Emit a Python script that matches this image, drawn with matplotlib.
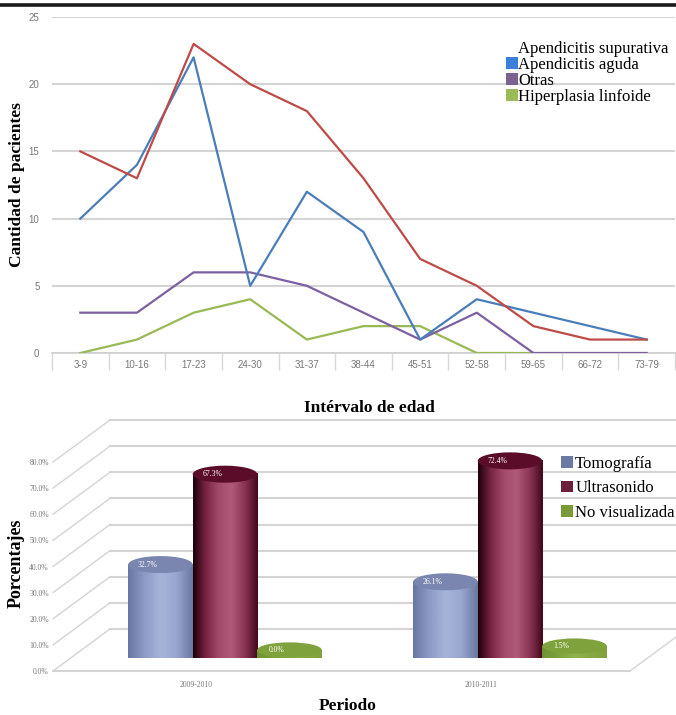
import numpy as np
import matplotlib
matplotlib.use("Agg")
import matplotlib.pyplot as plt
from matplotlib.patches import Patch, Ellipse, PathPatch
from matplotlib.path import Path
from matplotlib.colors import LinearSegmentedColormap
from matplotlib.lines import Line2D

# pacientes por grupo de edad y diagnostico
grupos_edad = ['3-9', '10-16', '17-23', '24-30', '31-37', '38-44',
               '45-51', '52-58', '59-65', '66-72', '73-79']
supurativa = [15, 13, 23, 20, 18, 13, 7, 5, 2, 1, 1]
aguda = [10, 14, 22, 5, 12, 9, 1, 4, 3, 2, 1]
otras = [3, 3, 6, 6, 5, 3, 1, 3, 0, 0, 0]
hiperplasia = [0, 1, 3, 4, 1, 2, 2, 0, 0, np.nan, np.nan]

# estudio de imagen por periodo (%)
periodos = ['2009-2010', '2010-2011']
tomografia = [32.7, 26.1]
ultrasonido = [67.3, 72.4]
no_visualizada = [0.0, 1.5]

W, H = 676, 715
fig = plt.figure(figsize=(W / 100, H / 100), dpi=100)
SERIF = 'Liberation Serif'


def caja(x0, y0, x1, y1):
    # rectangulo en pixeles (origen arriba a la izquierda) -> fraccion de figura
    return [x0 / W, 1 - y1 / H, (x1 - x0) / W, (y1 - y0) / H]


# filete negro de la pagina
fig.add_artist(Line2D([0, 1], [1 - 4.5 / H] * 2, color='#1a1a1a', lw=2.6))

# ---------------- grafico de lineas ----------------
ax = fig.add_axes(caja(52, 17, 675, 353))
x = np.arange(len(grupos_edad))

ax.plot(x, hiperplasia, color='#98b954', lw=1.6, zorder=3)
ax.plot(x, otras, color='#7d60a0', lw=1.6, zorder=4)
ax.plot(x, aguda, color='#4a7ebb', lw=1.6, zorder=5)
ax.plot(x, supurativa, color='#be4b48', lw=1.6, zorder=6)

ax.set_xlim(-0.5, len(grupos_edad) - 0.5)
ax.set_ylim(0, 25)
ax.set_yticks(range(0, 26, 5))
ax.grid(axis='y', color='#d4d4d4', lw=1.5)
ax.set_axisbelow(True)
for s in ['top', 'right', 'left']:
    ax.spines[s].set_visible(False)
ax.spines['bottom'].set_color('#d0d0d0')
ax.spines['bottom'].set_linewidth(1.2)
ax.set_xticks(x)
ax.set_xticklabels(grupos_edad, family='Liberation Sans')
ax.set_xticks(np.arange(-0.5, len(grupos_edad)), minor=True)
ax.tick_params(axis='x', which='major', length=0, pad=5, labelsize=7, labelcolor='#777777')
ax.tick_params(axis='x', which='minor', length=12, width=1, color='#d8d8d8')
ax.tick_params(axis='y', length=0, pad=9, labelsize=7, labelcolor='#777777')
for t in ax.get_yticklabels():
    t.set_family('Liberation Sans')

ax.set_ylabel('Cantidad de pacientes', family=SERIF, fontsize=12.5, fontweight='bold')
ax.yaxis.set_label_coords(-0.043, 0.5)
ax.set_xlabel('Intérvalo de edad', family=SERIF, fontsize=12.5, fontweight='bold')
ax.xaxis.set_label_coords(0.51, -0.14)

ley = [Patch(facecolor='none', edgecolor='none', label='Apendicitis supurativa'),
       Patch(facecolor='#3c7fd8', label='Apendicitis aguda'),
       Patch(facecolor='#7a6293', label='Otras'),
       Patch(facecolor='#9bbb59', label='Hiperplasia linfoide')]
ax.legend(handles=ley, loc='upper left', bbox_to_anchor=(506 / W, 1 - 41 / H),
          bbox_transform=fig.transFigure, frameon=False,
          prop=dict(family=SERIF, size=12), handlelength=0.7, handleheight=0.7,
          handletextpad=0.05, labelspacing=0.0, borderpad=0, borderaxespad=0)

# ---------------- grafico de cilindros ----------------
bx = fig.add_axes(caja(53, 462, 630, 671))
px_x = 285.0          # pixeles por categoria
px_y = 209 / 80.0     # pixeles por punto porcentual
x_izq = (53 - 196.5) / px_x
x_der = (630 - 196.5) / px_x
prof_x = 57 / px_x
prof_y = 42 / px_y
gris = '#d4d4d4'

niveles = np.arange(0, 81, 10)
for v in niveles:
    # pared del fondo y pared lateral
    bx.plot([x_izq + prof_x, x_der + prof_x + 0.2], [v + prof_y] * 2,
            color=gris, lw=1.5, clip_on=False, zorder=1)
    bx.plot([x_izq, x_izq + prof_x], [v, v + prof_y],
            color=gris, lw=1.0, clip_on=False, zorder=1)
# piso
bx.plot([x_izq, x_der], [0, 0], color=gris, lw=1.5, clip_on=False, zorder=1)
bx.plot([x_der, x_der + prof_x], [0, prof_y], color=gris, lw=1.0, clip_on=False, zorder=1)


def cilindro(xc, valor, ancho, ry, colores, tapa, etiqueta, z):
    base = prof_y / 2
    x0, x1 = xc - ancho / 2, xc + ancho / 2
    tt = np.linspace(np.pi, 2 * np.pi, 60)
    verts = [(x0, base + valor)]
    verts += [(xc + ancho / 2 * np.cos(t), base + ry * np.sin(t)) for t in tt]
    verts += [(x1, base + valor), (x0, base + valor)]
    camino = Path(verts)
    cmap = LinearSegmentedColormap.from_list('c', colores)
    im = bx.imshow(np.linspace(0, 1, 256)[None, :], cmap=cmap, aspect='auto',
                   extent=[x0, x1, base - ry, base + valor], zorder=z,
                   interpolation='bilinear', clip_on=False)
    im.set_clip_path(PathPatch(camino, transform=bx.transData))
    bx.add_patch(Ellipse((xc, base + valor), ancho, 2 * ry, facecolor=tapa,
                         edgecolor='none', zorder=z + 0.5, clip_on=False))
    bx.text(xc - 0.045, base + valor, etiqueta, color='white', fontsize=5.5,
            family=SERIF, ha='center', va='center', zorder=z + 0.6)


ancho = 64.5 / px_x
ry = 8.5 / px_y
c_tomo = ['#6876a2', '#8c9ac4', '#a7b4da', '#98a6cf', '#6a779f']
c_ultra = ['#1c0008', '#7a2444', '#a34b6b', '#b05a78', '#8a3454', '#420719']
c_nv = ['#6e9232', '#8fb14a', '#7fa03c']
for i in range(len(periodos)):
    xc = i + prof_x / 2
    cilindro(xc - ancho, tomografia[i], ancho, ry, c_tomo, '#7a86b0',
             f'{tomografia[i]:.1f}%', 3)
    cilindro(xc, ultrasonido[i], ancho, ry, c_ultra, '#5a0c28',
             f'{ultrasonido[i]:.1f}%', 4)
    cilindro(xc + ancho, no_visualizada[i], ancho, ry * 0.9, c_nv, '#80a23c',
             f'{no_visualizada[i]:.1f}%', 5)

bx.set_xlim(x_izq, x_der)
bx.set_ylim(0, 80)
bx.set_yticks(niveles)
bx.set_yticklabels([f'{v:.1f}%' for v in niveles])
bx.set_xticks(range(len(periodos)))
bx.set_xticklabels(periodos)
bx.tick_params(length=0, labelsize=5.5, labelcolor='#777777')
bx.tick_params(axis='y', pad=3)
bx.tick_params(axis='x', pad=7)
for t in bx.get_xticklabels() + bx.get_yticklabels():
    t.set_family(SERIF)
for s in bx.spines.values():
    s.set_visible(False)

bx.set_ylabel('Porcentajes', family=SERIF, fontsize=13, fontweight='bold')
bx.yaxis.set_label_coords(-0.05, 0.517)
bx.set_xlabel('Periodo', family=SERIF, fontsize=12.5, fontweight='bold')
bx.xaxis.set_label_coords(0.511, -0.13)

ley2 = [Patch(facecolor='#6b7aa3', label='Tomografía'),
        Patch(facecolor='#6b1f3a', label='Ultrasonido'),
        Patch(facecolor='#7a9a3a', label='No visualizada')]
bx.legend(handles=ley2, loc='upper left', bbox_to_anchor=(561 / W, 1 - 456 / H),
          bbox_transform=fig.transFigure, frameon=False,
          prop=dict(family=SERIF, size=12), handlelength=0.7, handleheight=0.7,
          handletextpad=0.15, labelspacing=0.5, borderpad=0, borderaxespad=0)

fig.savefig('out.png', dpi=100)
